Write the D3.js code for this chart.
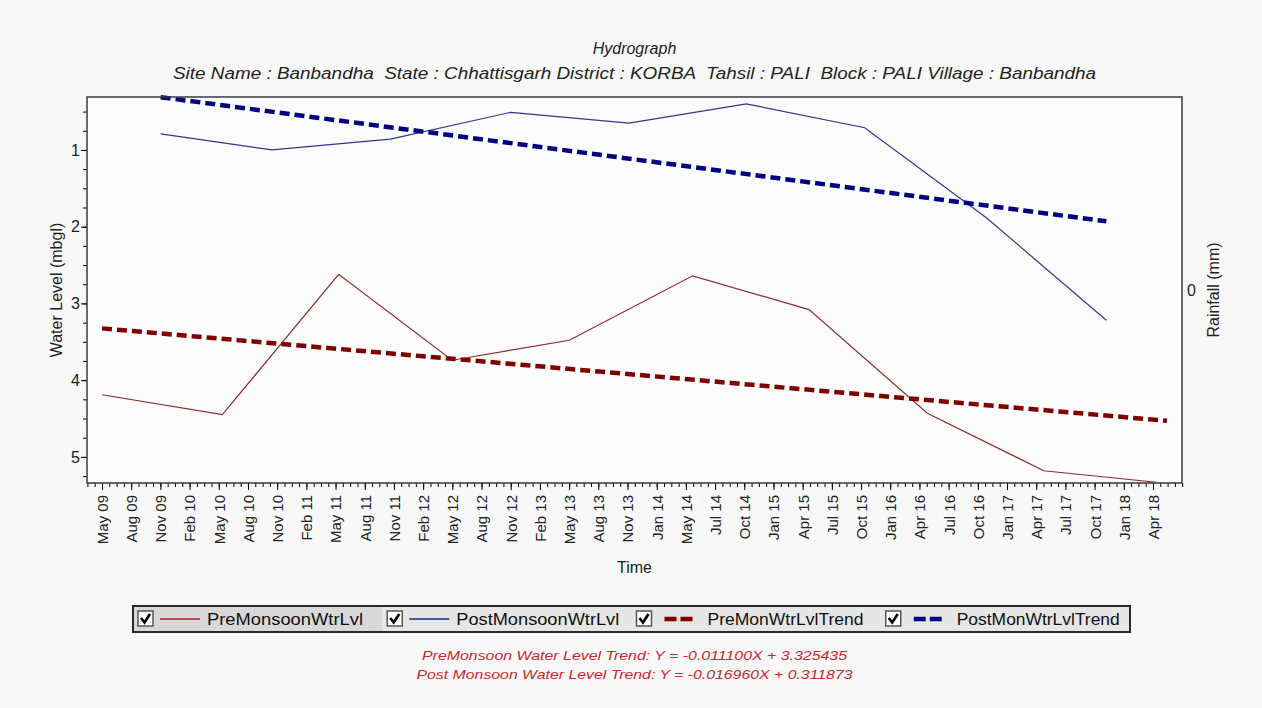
<!DOCTYPE html>
<html>
<head>
<meta charset="utf-8">
<title>Hydrograph</title>
<script src="https://cdn.jsdelivr.net/npm/d3@7"></script>
<style>
  body { margin: 0; background: #f8f8f8; }
  svg { display: block; font-family: "Liberation Sans", Arial, sans-serif; }
</style>
</head>
<body>
<svg id="chart" width="1262" height="708"></svg>
<script>
// labels of the time axis (evenly spaced, as the source chart prints them)
var timeLabels = ["May 09","Aug 09","Nov 09","Feb 10","May 10","Aug 10","Nov 10","Feb 11",
  "May 11","Aug 11","Nov 11","Feb 12","May 12","Aug 12","Nov 12","Feb 13","May 13","Aug 13",
  "Nov 13","Jan 14","May 14","Jul 14","Oct 14","Jan 15","Apr 15","Jul 15","Oct 15","Jan 16",
  "Apr 16","Jul 16","Oct 16","Jan 17","Apr 17","Jul 17","Oct 17","Jan 18","Apr 18"];

// measurement time in months since May 2009, level in mbgl
var preMonths  = [0, 12.1, 23.8, 35.2, 47.0, 59.4, 71.1, 83.0, 94.7, 106.0];
var preLevel   = [4.19, 4.45, 2.62, 3.74, 3.48, 2.64, 3.08, 4.43, 5.18, 5.33];
var postMonths = [5.9, 17.1, 29.0, 41.1, 53.0, 64.8, 76.7, 89.0, 101.0];
var postLevel  = [0.79, 1.00, 0.86, 0.51, 0.65, 0.40, 0.71, 1.89, 3.22];

// trend lines (end points)
var preTrendMonths  = [0, 107.1];
var preTrendLevel   = [3.325, 4.53];
var postTrendMonths = [5.9, 101.0];
var postTrendLevel  = [0.312, 1.93];

var levelTicks = [1, 2, 3, 4, 5];
var rainTicks = [0];
var seriesNames = ["PreMonsoonWtrLvl", "PostMonsoonWtrLvl", "PreMonWtrLvlTrend", "PostMonWtrLvlTrend"];
var equations = ["PreMonsoon Water Level Trend: Y = -0.011100X + 3.325435",
  "Post Monsoon Water Level Trend: Y = -0.016960X + 0.311873"];

var W = 1262, H = 708;
var plot = {left: 87, right: 1182, top: 97, bottom: 483};
var midX = (plot.left + plot.right) / 2, midY = (plot.top + plot.bottom) / 2;

var colors = {pre: "#8e2a2a", post: "#34348c", preTrend: "#800000", postTrend: "#000080"};

var svg = d3.select("#chart");
svg.append("rect").attr("width", W).attr("height", H).attr("fill", "#f8f8f8");

var x = d3.scaleLinear().domain([0, 107.1]).range([plot.left + 15, plot.right - 15]);
var xLabel = d3.scalePoint().domain(timeLabels).range([plot.left + 15, plot.right - 29]);
var xIdx = d3.scaleLinear().domain([0, timeLabels.length - 1]).range(xLabel.range());
var y = d3.scaleLinear().domain([0.31, 5.34]).range([plot.top, plot.bottom]);
var yRain = d3.scaleLinear().domain([-1, 1]).range([plot.bottom, plot.top]);

// titles
svg.append("text").attr("x", midX).attr("y", 54).attr("text-anchor", "middle")
  .attr("font-style", "italic").attr("font-size", 16).attr("fill", "#222").text("Hydrograph");
svg.append("text").attr("x", midX).attr("y", 79).attr("text-anchor", "middle")
  .attr("font-style", "italic").attr("font-size", 16).attr("fill", "#222")
  .style("white-space", "pre")
  .attr("textLength", 923).attr("lengthAdjust", "spacingAndGlyphs")
  .text("Site Name : Banbandha  State : Chhattisgarh District : KORBA  Tahsil : PALI  Block : PALI Village : Banbandha");

// plot frame
svg.append("rect").attr("x", plot.left).attr("y", plot.top)
  .attr("width", plot.right - plot.left).attr("height", plot.bottom - plot.top)
  .attr("fill", "#fcfcfc");

// y axis: minor + major ticks
svg.append("g").attr("transform", "translate(" + plot.left + ",0)")
  .call(d3.axisLeft(y).tickValues(d3.range(0.5, 5.3, 0.25)).tickSize(4).tickFormat(""))
  .call(g => g.select(".domain").remove());
svg.append("g").attr("transform", "translate(" + plot.left + ",0)")
  .call(d3.axisLeft(y).tickValues(levelTicks).tickSize(6).tickPadding(1).tickFormat(d3.format("d")))
  .call(g => g.select(".domain").remove())
  .call(g => g.selectAll("text").attr("font-size", 16).attr("fill", "#222")
    .attr("font-family", "Liberation Sans, Arial"));

// x axis: minor + major ticks
svg.append("g").attr("transform", "translate(0," + plot.bottom + ")")
  .call(d3.axisBottom(xIdx).tickValues(d3.range(-0.5, 37.01, 0.25)).tickSize(4).tickFormat(""))
  .call(g => g.select(".domain").remove());
svg.append("g").attr("transform", "translate(0," + plot.bottom + ")")
  .call(d3.axisBottom(xLabel).tickSize(7))
  .call(g => g.select(".domain").remove())
  .call(g => g.selectAll("text")
    .attr("font-size", 15).attr("fill", "#222").attr("font-family", "Liberation Sans, Arial")
    .attr("transform", "rotate(-90)").attr("text-anchor", "end")
    .attr("x", -12).attr("y", 0).attr("dy", "0.36em"));

// right (rainfall) axis
svg.append("g").attr("transform", "translate(" + plot.right + ",0)")
  .call(d3.axisRight(yRain).tickValues(rainTicks).tickSize(0).tickPadding(5).tickFormat(d3.format("d")))
  .call(g => g.select(".domain").remove())
  .call(g => g.selectAll("text").attr("font-size", 16).attr("fill", "#222")
    .attr("font-family", "Liberation Sans, Arial"));

// axis titles
svg.append("text").attr("transform", "translate(62," + midY + ") rotate(-90)")
  .attr("text-anchor", "middle").attr("font-size", 16).attr("fill", "#222").text("Water Level (mbgl)");
svg.append("text").attr("transform", "translate(1219," + midY + ") rotate(-90)")
  .attr("text-anchor", "middle").attr("font-size", 16).attr("fill", "#222").text("Rainfall (mm)");
svg.append("text").attr("x", midX).attr("y", 573).attr("text-anchor", "middle")
  .attr("font-size", 16).attr("fill", "#222").text("Time");

// series
var line = d3.line().x(d => x(d[0])).y(d => y(d[1]));

svg.append("path").datum(d3.zip(preMonths, preLevel))
  .attr("d", line).attr("fill", "none").attr("stroke", colors.pre).attr("stroke-width", 1.2);
svg.append("path").datum(d3.zip(postMonths, postLevel))
  .attr("d", line).attr("fill", "none").attr("stroke", colors.post).attr("stroke-width", 1.2);
svg.append("path").datum(d3.zip(preTrendMonths, preTrendLevel))
  .attr("d", line).attr("fill", "none").attr("stroke", colors.preTrend)
  .attr("stroke-width", 4.5).attr("stroke-dasharray", "10,5");
svg.append("path").datum(d3.zip(postTrendMonths, postTrendLevel))
  .attr("d", line).attr("fill", "none").attr("stroke", colors.postTrend)
  .attr("stroke-width", 4.5).attr("stroke-dasharray", "10,5");

svg.append("rect").attr("x", plot.left).attr("y", plot.top)
  .attr("width", plot.right - plot.left).attr("height", plot.bottom - plot.top)
  .attr("fill", "none").attr("stroke", "#3a3a3a").attr("stroke-width", 1.5);

// legend
var legend = {x: 133, y: 606, w: 997, h: 26};
var lg = svg.append("g");
lg.append("rect").attr("x", legend.x).attr("y", legend.y).attr("width", legend.w).attr("height", legend.h)
  .attr("fill", "#e6e6e6").attr("stroke", "#2a2a2a").attr("stroke-width", 2);
lg.append("rect").attr("x", legend.x + 1).attr("y", legend.y + 1).attr("width", 248).attr("height", legend.h - 2)
  .attr("fill", "#d8d8d8");

var slot = legend.w / seriesNames.length;
var sampleStyle = [
  {c: "#c04a55", w: 2, dash: null},
  {c: "#4a55a8", w: 2, dash: null},
  {c: colors.preTrend, w: 4.5, dash: "12,4"},
  {c: colors.postTrend, w: 4.5, dash: "12,4"}
];
seriesNames.forEach(function(name, i) {
  var gx = legend.x + 5 + i * slot, cy = legend.y + legend.h / 2;
  var item = lg.append("g").attr("transform", "translate(" + gx + "," + cy + ")");
  item.append("rect").attr("x", 0).attr("y", -8).attr("width", 15).attr("height", 15)
    .attr("fill", "#fff").attr("stroke", "#555").attr("stroke-width", 1.5);
  item.append("path").attr("d", "M3,-1 L6.5,3.5 L12,-5").attr("fill", "none")
    .attr("stroke", "#000").attr("stroke-width", 2.6);
  var s = sampleStyle[i];
  var ln = item.append("line").attr("x1", s.dash ? 28 : 22).attr("x2", s.dash ? 58 : 62)
    .attr("y1", 0).attr("y2", 0).attr("stroke", s.c).attr("stroke-width", s.w);
  if (s.dash) ln.attr("stroke-dasharray", s.dash);
  item.append("text").attr("x", s.dash ? 71 : 69).attr("y", 0).attr("dy", "0.36em")
    .attr("font-size", 16).attr("fill", "#111")
    .attr("textLength", i % 2 ? 163 : 156).attr("lengthAdjust", "spacingAndGlyphs")
    .text(name);
});

// trend equations
equations.forEach(function(eq, i) {
  svg.append("text").attr("x", midX).attr("y", 660 + i * 19).attr("text-anchor", "middle")
    .attr("font-family", "Liberation Sans Narrow, Liberation Sans, Arial")
    .attr("font-style", "italic").attr("font-size", 13).attr("fill", "#c8282e")
    .attr("textLength", i ? 436 : 425).attr("lengthAdjust", "spacingAndGlyphs")
    .text(eq);
});
</script>
</body>
</html>
